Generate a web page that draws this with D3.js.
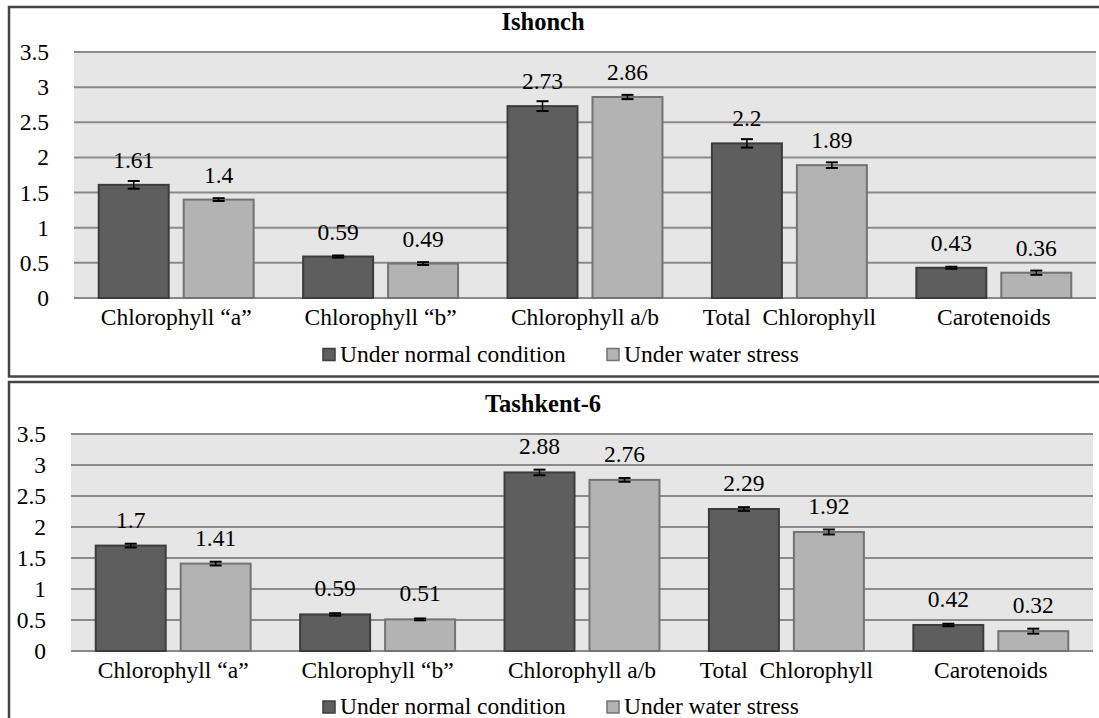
<!DOCTYPE html>
<html>
<head>
<meta charset="utf-8">
<script src="https://cdn.jsdelivr.net/npm/d3@7"></script>
<style>
  body { margin: 0; background: #fff; }
  svg text { font-family: "Liberation Serif", "Times New Roman", serif; fill: #000; white-space: pre; }
</style>
</head>
<body>
<svg id="chart" width="1099" height="718"></svg>
<script>
// data
const categories = ["Chlorophyll \u201ca\u201d", "Chlorophyll \u201cb\u201d", "Chlorophyll a/b", "Total  Chlorophyll", "Carotenoids"];
const seriesNames = ["Under normal condition", "Under water stress"];
const yTicks = [0, 0.5, 1, 1.5, 2, 2.5, 3, 3.5];

const ishonchNormal = [1.61, 0.59, 2.73, 2.2, 0.43];
const ishonchStress = [1.4, 0.49, 2.86, 1.89, 0.36];
const ishonchNormalErr = [0.055, 0.015, 0.07, 0.06, 0.015];
const ishonchStressErr = [0.02, 0.02, 0.03, 0.04, 0.03];

const tashkentNormal = [1.7, 0.59, 2.88, 2.29, 0.42];
const tashkentStress = [1.41, 0.51, 2.76, 1.92, 0.32];
const tashkentNormalErr = [0.03, 0.02, 0.045, 0.03, 0.02];
const tashkentStressErr = [0.03, 0.015, 0.03, 0.04, 0.04];

const fills = ["#5e5e5e", "#b3b3b3"];
const strokes = ["#3c3c3c", "#737373"];
const fontSize = 23.5;

const svg = d3.select("#chart");

function draw_panel(cfg) {
    const g = svg.append("g");

    // panel frame
    g.append("rect")
        .attr("x", 9).attr("y", cfg.top)
        .attr("width", 1110).attr("height", cfg.height)
        .attr("fill", "#fff")
        .attr("stroke", "#444").attr("stroke-width", 2.5);

    const x0 = d3.scaleBand().domain(categories).range([cfg.left, cfg.right])
        .paddingInner(0.242).paddingOuter(0.121);
    const x1 = d3.scaleBand().domain(seriesNames).range([0, x0.bandwidth()])
        .paddingInner(15 / 85).paddingOuter(0);
    const y = d3.scaleLinear().domain([0, 3.5]).range([cfg.bottom, cfg.plotTop]);

    // plot background
    g.append("rect")
        .attr("x", cfg.left).attr("y", y(3.5))
        .attr("width", cfg.right - cfg.left).attr("height", y(0) - y(3.5))
        .attr("fill", "#e6e6e6");

    // gridlines
    g.selectAll(".grid").data(yTicks).enter().append("line")
        .attr("class", "grid")
        .attr("x1", cfg.left).attr("x2", cfg.right)
        .attr("y1", d => y(d)).attr("y2", d => y(d))
        .attr("stroke", "#8a8a8a").attr("stroke-width", 2);

    // y axis labels
    g.append("g")
        .attr("transform", "translate(" + cfg.tickX + ",0)")
        .call(d3.axisLeft(y).tickValues(yTicks).tickSize(0).tickPadding(0).tickFormat(d3.format("")))
        .call(a => a.select(".domain").remove())
        .selectAll("text")
        .attr("font-size", fontSize)
        .attr("fill", "#000");

    const rows = categories.map((c, i) => ({
        cat: c,
        vals: cfg.series.map((s, k) => ({ name: seriesNames[k], k: k, v: s[i], e: cfg.errors[k][i] }))
    }));

    const groups = g.selectAll(".cat").data(rows).enter().append("g")
        .attr("class", "cat")
        .attr("transform", d => "translate(" + x0(d.cat) + ",0)");

    groups.selectAll("rect").data(d => d.vals).enter().append("rect")
        .attr("x", d => x1(d.name))
        .attr("y", d => y(d.v))
        .attr("width", x1.bandwidth())
        .attr("height", d => y(0) - y(d.v))
        .attr("fill", d => fills[d.k])
        .attr("stroke", d => strokes[d.k])
        .attr("stroke-width", 2);

    // error bars
    const eb = groups.selectAll(".err").data(d => d.vals).enter().append("g").attr("class", "err");
    eb.append("line")
        .attr("x1", d => x1(d.name) + x1.bandwidth() / 2)
        .attr("x2", d => x1(d.name) + x1.bandwidth() / 2)
        .attr("y1", d => y(d.v + d.e)).attr("y2", d => y(d.v - d.e))
        .attr("stroke", "#000").attr("stroke-width", 1.5);
    [1, -1].forEach(sgn => {
        eb.append("line")
            .attr("x1", d => x1(d.name) + x1.bandwidth() / 2 - 6)
            .attr("x2", d => x1(d.name) + x1.bandwidth() / 2 + 6)
            .attr("y1", d => y(d.v + sgn * d.e)).attr("y2", d => y(d.v + sgn * d.e))
            .attr("stroke", "#000").attr("stroke-width", 2);
    });

    // value labels
    groups.selectAll(".val").data(d => d.vals).enter().append("text")
        .attr("class", "val")
        .attr("x", d => x1(d.name) + x1.bandwidth() / 2)
        .attr("y", d => y(d.v) - cfg.labelGap)
        .attr("text-anchor", "middle")
        .attr("font-size", fontSize)
        .text(d => d.v);

    // category labels
    g.selectAll(".catlab").data(categories).enter().append("text")
        .attr("class", "catlab")
        .attr("x", d => x0(d) + x0.bandwidth() / 2)
        .attr("y", y(0) + 27)
        .attr("text-anchor", "middle")
        .attr("font-size", fontSize)
        .text(d => d);

    // title
    g.append("text")
        .attr("x", 543).attr("y", cfg.titleY)
        .attr("text-anchor", "middle")
        .attr("font-size", 24.5).attr("font-weight", "bold")
        .text(cfg.title);

    // legend
    const legX = [323, 607];
    const leg = g.selectAll(".leg").data(seriesNames).enter().append("g")
        .attr("class", "leg")
        .attr("transform", (d, i) => "translate(" + legX[i] + "," + cfg.legendY + ")");
    leg.append("rect")
        .attr("x", 0).attr("y", -6).attr("width", 12).attr("height", 12)
        .attr("fill", (d, i) => fills[i])
        .attr("stroke", (d, i) => strokes[i]).attr("stroke-width", 1.5);
    leg.append("text")
        .attr("x", 17).attr("y", 7)
        .attr("font-size", fontSize)
        .text(d => d);
}

draw_panel({
    title: "Ishonch", top: 7, height: 369.5,
    left: 74, right: 1096, plotTop: 52, bottom: 298,
    tickX: 49, titleY: 30, legendY: 354.5, labelGap: 17,
    series: [ishonchNormal, ishonchStress],
    errors: [ishonchNormalErr, ishonchStressErr]
});

draw_panel({
    title: "Tashkent-6", top: 382, height: 360,
    left: 71, right: 1093, plotTop: 434, bottom: 651,
    tickX: 46, titleY: 412, legendY: 707, labelGap: 18,
    series: [tashkentNormal, tashkentStress],
    errors: [tashkentNormalErr, tashkentStressErr]
});
</script>
</body>
</html>
